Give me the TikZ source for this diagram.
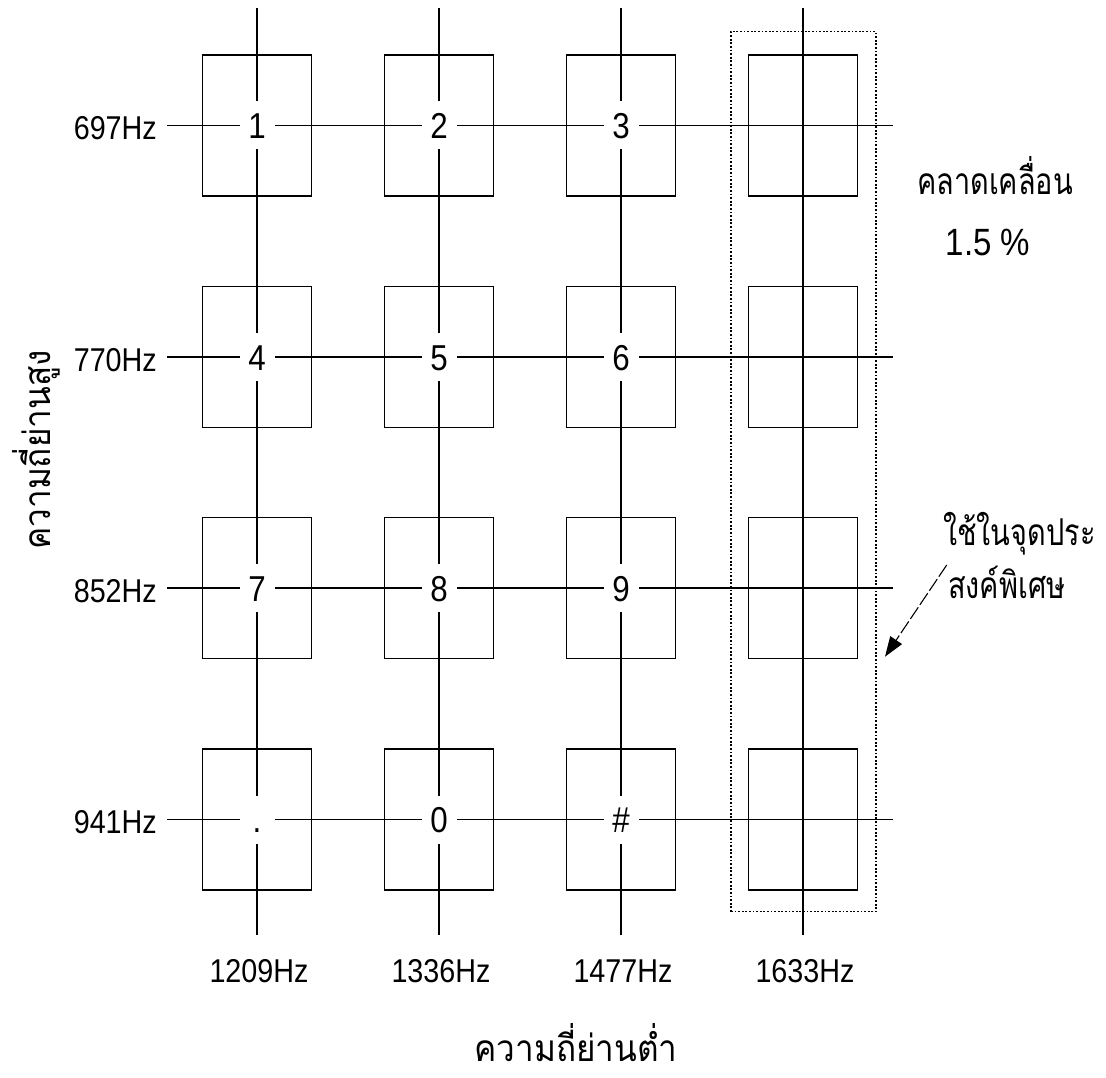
\documentclass[tikz,border=0pt]{standalone}
\usepackage{fontspec}
\setmainfont{Liberation Sans}[FakeStretch=0.87]
\newfontfamily\thainarrow[Script=Thai,FakeStretch=0.78]{Loma}
\newfontfamily\thaiwide[Script=Thai,FakeStretch=0.9]{Loma}
\usetikzlibrary{arrows.meta}
\begin{document}
\begin{tikzpicture}[x=1pt,y=1pt,
  wire/.style={line width=1.1pt},
  keybox/.style={draw, line width=1.2pt, minimum width=109pt, minimum height=141pt, inner sep=0pt},
  digit/.style={fill=white, inner sep=0pt, minimum width=35pt, minimum height=48pt, text height=26pt, text depth=0pt, font=\fontsize{36}{40}\selectfont},
  hz/.style={inner sep=0pt, font=\fontsize{33}{38}\selectfont},
  thai/.style={inner sep=0pt, font=\thainarrow\fontsize{37}{42}\selectfont},
  axis/.style={inner sep=0pt, font=\thaiwide\fontsize{37}{42}\selectfont},
  selbox/.style={draw, line width=1.3pt, dash pattern=on 1.8pt off 1.8pt, minimum width=145pt, minimum height=880pt, inner sep=0pt}]
\useasboundingbox (0,0) rectangle (1106,-1078);
\fill[white] (0,0) rectangle (1106,-1078);
% vertical lines
\foreach \c/\x/\f in {1/257/1209Hz,2/439/1336Hz,3/621/1477Hz,4/803/1633Hz} {
  \coordinate (top\c) at (\x,-8);
  \coordinate (bot\c) at (\x,-935);
  \draw[wire] (top\c) -- (bot\c);
  \node[hz, anchor=base] (cl\c) at (\x+2,-982) {\f};
}
% horizontal lines
\foreach \r/\y/\f in {1/-125.5/697Hz,2/-357/770Hz,3/-588/852Hz,4/-819.5/941Hz} {
  \node[hz, anchor=base east] (rl\r) at (157,\y-14) {\f};
  \coordinate (hs\r) at (167,\y);
  \coordinate (he\r) at (893,\y);
  \draw[wire] (hs\r) -- (he\r);
}
% key boxes
\foreach \c/\x in {1/257,2/439,3/621,4/803} {
  \foreach \r/\y in {1/-125.5,2/-357,3/-588,4/-819.5} {
    \node[keybox] (k\r\c) at (\x,\y) {};
  }
}
% digits
\foreach \r/\c/\t in {1/1/1,1/2/2,1/3/3,2/1/4,2/2/5,2/3/6,3/1/7,3/2/8,3/3/9,4/1/.,4/2/0} {
  \node[digit] (d\r\c) at (k\r\c.center) {\t};
}
\node[digit] (d43) at (k43.center) {\#};
% selection box
\node[selbox] (sel) at (803.5,-471.7) {};
% labels
\node[thai, anchor=base] (dev) at (995,-195) {คลาดเคลื่อน};
\node[inner sep=0pt, font=\fontsize{38}{42}\selectfont, anchor=base] (pct) at (988,-255) {1.5 \%};
\node[thai, anchor=base west] (sp1) at (943,-545) {ใช้ในจุดประ};
\node[thai, anchor=base west] (sp2) at (948,-598) {สงค์พิเศษ};
\node[axis, anchor=base] (lo) at (576,-1061) {ความถี่ย่านต่ำ};
\node[axis, anchor=base, rotate=90] (hi) at (50,-450) {ความถี่ย่านสูง};
% arrow
\coordinate (as) at (946.7,-565);
\coordinate (ae) at (885,-656.7);
\draw[wire, dash pattern=on 14pt off 3pt, -{Triangle[length=20pt,width=14pt]}] (as) -- (ae);
\end{tikzpicture}
\end{document}
